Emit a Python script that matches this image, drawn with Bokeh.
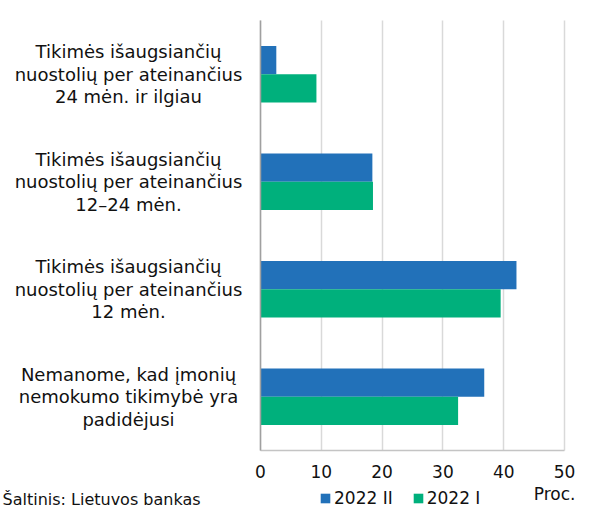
from bokeh.plotting import figure
from bokeh.models import Range1d, Label, Legend, LegendItem, FixedTicker, ColumnDataSource
from bokeh.transform import dodge
from bokeh.embed import file_html
from bokeh.resources import INLINE

# ---- data ----
categories = [
    "Tikimės išaugsiančių\nnuostolių per ateinančius\n24 mėn. ir ilgiau",
    "Tikimės išaugsiančių\nnuostolių per ateinančius\n12–24 mėn.",
    "Tikimės išaugsiančių\nnuostolių per ateinančius\n12 mėn.",
    "Nemanome, kad įmonių\nnemokumo tikimybė yra\npadidėjusi",
]
series_names = ["2022 II", "2022 I"]
values_2022_II = [2.6, 18.4, 42.1, 36.8]
values_2022_I = [9.2, 18.5, 39.5, 32.5]
x_ticks = [0, 10, 20, 30, 40, 50]
x_min, x_max = 0, 50
unit_label = "Proc."
source_label = "Šaltinis: Lietuvos bankas"

# ---- style / layout ----
BLUE = "#2271b9"
GREEN = "#00b07c"
TXT = "#111111"
FONT = "DejaVu Sans"
W, H = 576, 509
PLOT_L, PLOT_R, PLOT_T, PLOT_B = 260, 564, 20, 450   # plot area in canvas px

n = len(categories)
ypos = [n - 1 - i for i in range(n)]          # first category on top
y_lo, y_hi = -0.5, n - 0.5

# ranges chosen so the frame covers the whole canvas and the data area sits at PLOT_*
xs = (PLOT_R - PLOT_L) / (x_max - x_min)
ys = (PLOT_B - PLOT_T) / (y_hi - y_lo)
x_range = Range1d(x_min - PLOT_L / xs, x_max + (W - PLOT_R) / xs)
y_range = Range1d(y_lo - (H - PLOT_B) / ys, y_hi + PLOT_T / ys)

src = ColumnDataSource(dict(y=ypos, v2=values_2022_II, v1=values_2022_I))

p = figure(width=W, height=H, output_backend="svg", toolbar_location=None,
           x_range=x_range, y_range=y_range, min_border=0)
p.outline_line_color = None
p.background_fill_color = "white"
p.border_fill_color = "white"

# axes drawn at the edges of the data area
p.xaxis.fixed_location = y_lo
p.xaxis.bounds = (x_min, x_max)
p.xaxis.ticker = FixedTicker(ticks=x_ticks)
p.xaxis.major_tick_line_color = None
p.xaxis.minor_tick_line_color = None
p.xaxis.major_tick_out = 0
p.xaxis.major_tick_in = 0
p.xaxis.major_label_standoff = 14
p.xaxis.major_label_text_font = FONT
p.xaxis.major_label_text_font_size = "17px"
p.xaxis.major_label_text_color = TXT
p.xaxis.axis_line_color = "#c4c4c4"
p.xaxis.axis_line_width = 1.5

p.yaxis.fixed_location = x_min
p.yaxis.bounds = (y_lo, y_hi)
p.yaxis.ticker = FixedTicker(ticks=[])
p.yaxis.major_tick_line_color = None
p.yaxis.minor_tick_line_color = None
p.yaxis.major_label_text_font_size = "0px"
p.yaxis.axis_line_color = "#a0a0a0"
p.yaxis.axis_line_width = 1.5

p.ygrid.grid_line_color = None
xg = p.xgrid[0]
if "cross_bounds" in xg.properties():
    xg.grid_line_color = "#d9d9d9"
    xg.grid_line_width = 1.5
    xg.bounds = (x_min, x_max)
    xg.cross_bounds = (y_lo, y_hi)
else:
    xg.grid_line_color = None
    p.segment(x0=x_ticks, x1=x_ticks, y0=[y_lo] * len(x_ticks), y1=[y_hi] * len(x_ticks),
              line_color="#d9d9d9", line_width=1.5, level="underlay")

r2 = p.hbar(y=dodge("y", 0.132), right="v2", left=x_min, height=0.262, source=src,
            fill_color=BLUE, line_color=None)
r1 = p.hbar(y=dodge("y", -0.132), right="v1", left=x_min, height=0.262, source=src,
            fill_color=GREEN, line_color=None)

# category labels
for cat, y in zip(categories, ypos):
    p.add_layout(Label(x=128, x_units="screen", y=y, y_units="data", text=cat,
                       text_align="center", text_baseline="middle",
                       text_font=FONT, text_font_size="18px",
                       text_color=TXT, text_line_height=1.07))

# unit label
p.add_layout(Label(x=575, x_units="screen", y=H - 493, y_units="screen", text=unit_label,
                   text_align="right", text_baseline="middle",
                   text_font=FONT, text_font_size="17px", text_color=TXT))

# source label
p.add_layout(Label(x=2, x_units="screen", y=H - 499, y_units="screen", text=source_label,
                   text_align="left", text_baseline="middle",
                   text_font=FONT, text_font_size="16px", text_color=TXT))

legend = Legend(items=[LegendItem(label=series_names[0], renderers=[r2]),
                       LegendItem(label=series_names[1], renderers=[r1])],
                orientation="horizontal", location=(319, 1),
                label_text_font=FONT, label_text_font_size="17px",
                label_text_color=TXT, glyph_width=12, glyph_height=12,
                spacing=19, label_standoff=3, padding=0, margin=0,
                label_height=12,
                border_line_color=None, background_fill_alpha=0)
p.add_layout(legend, "center")

open("out.html", "w").write(file_html(p, INLINE))
